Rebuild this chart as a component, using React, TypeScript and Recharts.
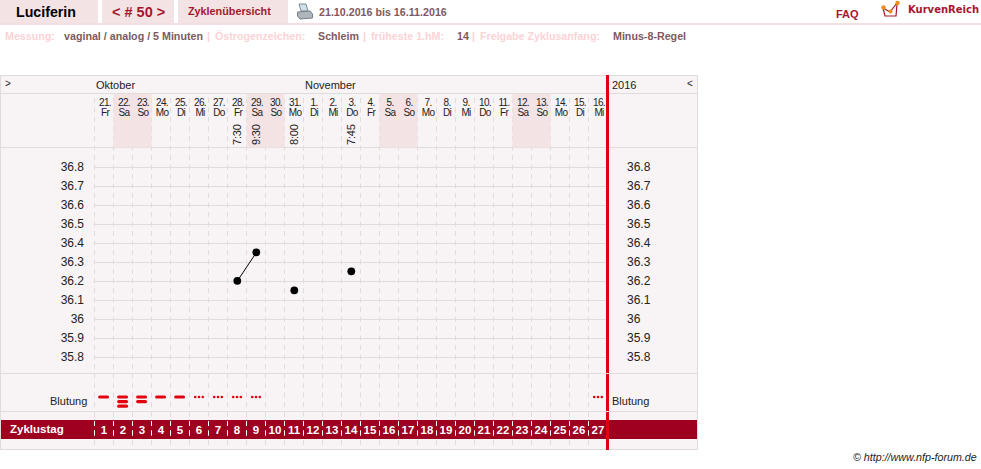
import { CSSProperties } from "react";
import {
  CartesianGrid,
  ComposedChart,
  Line,
  ReferenceArea,
  XAxis,
  YAxis,
} from "recharts";

const dates = ["21.", "22.", "23.", "24.", "25.", "26.", "27.", "28.", "29.", "30.", "31.", "1.", "2.", "3.", "4.", "5.", "6.", "7.", "8.", "9.", "10.", "11.", "12.", "13.", "14.", "15.", "16."];
const weekdays = ["Fr", "Sa", "So", "Mo", "Di", "Mi", "Do", "Fr", "Sa", "So", "Mo", "Di", "Mi", "Do", "Fr", "Sa", "So", "Mo", "Di", "Mi", "Do", "Fr", "Sa", "So", "Mo", "Di", "Mi"];
const cycleDays = [1, 2, 3, 4, 5, 6, 7, 8, 9, 10, 11, 12, 13, 14, 15, 16, 17, 18, 19, 20, 21, 22, 23, 24, 25, 26, 27];
const times = [null, null, null, null, null, null, null, "7:30", "9:30", null, "8:00", null, null, "7:45", null, null, null, null, null, null, null, null, null, null, null, null, null];
const temps = [null, null, null, null, null, null, null, 36.2, 36.35, null, 36.15, null, null, 36.25, null, null, null, null, null, null, null, null, null, null, null, null, null];
// 1 = dots, 2 = one dash, 3 = two dashes, 4 = three dashes
const bleeding = [2, 4, 3, 2, 2, 1, 1, 1, 1, null, null, null, null, null, null, null, null, null, null, null, null, null, null, null, null, null, 1];
const tempTicks = [36.8, 36.7, 36.6, 36.5, 36.4, 36.3, 36.2, 36.1, 36, 35.9, 35.8];
const weekendPairs = [["22.", "23."], ["29.", "30."], ["5.", "6."], ["12.", "13."]];

const data = dates.map((date, i) => ({
  date,
  weekday: weekdays[i],
  cycle: cycleDays[i],
  time: times[i],
  temp: temps[i],
  bleed: bleeding[i],
  bleedRow: bleeding[i] == null ? null : 1,
}));

const FONT = '"Liberation Sans", Arial, sans-serif';
const GRID = "#e0dcdc";
const RED = "#e2000f";
const PINK = "#f3e3e5";
const WINE = "#9e001f";
const MUTED = "#7d5a60";
const FAINT = "#fbd3d6";

// plot runs from y=93 to y=449, 19px per 0.1 degree, 36.8 sits on y=167.5
const TEMP_MAX = 36.8 + (167.5 - 93) / 190;
const TEMP_MIN = 35.8 - (449 - 357.5) / 190;
const HEADER_BOTTOM = 36.8 + (167.5 - 147.5) / 190;

function DayTick({ x, index, payload }: any) {
  const row = data[payload?.index ?? index];
  if (!row) return null;
  return (
    <g fontFamily={FONT} fontSize={10} fill="#222" textAnchor="middle" letterSpacing={-0.7}>
      <text x={x + 1} y={106}>{row.date}</text>
      <text x={x + 1} y={116}>{row.weekday}</text>
      {row.time && (
        <text
          x={x + 3.5}
          y={145}
          textAnchor="start"
          fontSize={11}
          letterSpacing={-0.2}
          transform={`rotate(-90 ${x + 3.5} 145)`}
        >
          {row.time}
        </text>
      )}
    </g>
  );
}

function CycleTick({ x, payload }: any) {
  return (
    <g>
      <line x1={x - 9.5} x2={x - 9.5} y1={421} y2={439} stroke="#fff" strokeDasharray="5 4.5" />
      <text x={x} y={434} textAnchor="middle" fontFamily={FONT} fontSize={11.5} fontWeight="bold" fill="#fff">
        {payload.value}
      </text>
    </g>
  );
}

function TempTick({ y, payload, labelX, anchor }: any) {
  return (
    <text x={labelX} y={y + 3} textAnchor={anchor} fontFamily={FONT} fontSize={12} fill="#222">
      {String(payload.value)}
    </text>
  );
}

function TempDot({ cx, cy }: any) {
  if (cy == null) return null;
  return <circle cx={cx + 0.3} cy={cy - 0.7} r={3.9} fill="#000" />;
}

function BleedMark({ cx, cy, payload }: any) {
  if (!payload.bleed) return null;
  if (payload.bleed === 1) {
    return (
      <g fill={RED}>
        {[-1, 0, 1].map((k) => (
          <circle key={k} cx={cx + k * 3.8} cy={cy} r={1.3} />
        ))}
      </g>
    );
  }
  return (
    <g fill={RED}>
      {Array.from({ length: payload.bleed - 1 }).map((_, k) => (
        <rect key={k} x={cx - 5.9} y={cy - 1.6 + k * 4.6} width={11} height={3.2} rx={1.6} />
      ))}
    </g>
  );
}

function Label({ x, y, children, style }: { x: number; y: number; children: any; style?: CSSProperties }) {
  return (
    <div style={{ position: "absolute", left: x, top: y, whiteSpace: "nowrap", fontFamily: FONT, lineHeight: 1, ...style }}>
      {children}
    </div>
  );
}

function Box({ x, y, w, h, color }: { x: number; y: number; w: number; h: number; color: string }) {
  return <div style={{ position: "absolute", left: x, top: y, width: w, height: h, background: color }} />;
}

const meta: CSSProperties = { fontSize: 10.7, fontWeight: "bold", color: FAINT };
const metaValue: CSSProperties = { fontSize: 10.7, fontWeight: "bold", color: MUTED };

export default function App() {
  return (
    <div style={{ position: "absolute", left: 0, top: 0, width: 981, height: 469, background: "#fff", overflow: "hidden" }}>
      {/* top navigation */}
      <Box x={0} y={0} w={98} h={23} color={PINK} />
      <Box x={102} y={0} w={72} h={23} color={PINK} />
      <Box x={178} y={0} w={110} h={23} color={PINK} />
      <Box x={0} y={23} w={981} h={2} color="#f3dfe1" />
      <Label x={16} y={5} style={{ fontSize: 14.2, fontWeight: "bold", color: "#000" }}>Luciferin</Label>
      <Label x={112} y={5} style={{ fontSize: 14.5, fontWeight: "bold", color: "#a5172f" }}>{"< # 50 >"}</Label>
      <Label x={188} y={6} style={{ fontSize: 10.8, fontWeight: "bold", color: "#a5172f" }}>Zyklenübersicht</Label>
      <svg style={{ position: "absolute", left: 297, top: 3 }} width={16} height={17}>
        <path d="M2 1 L9 1 L11 8 L4 8 Z" fill="#cfe0ea" stroke="#7f8c96" />
        <path d="M0.5 9 L13 8 L15.5 11 L15.5 15 L3 16 L0.5 13 Z" fill="#aeb6bb" stroke="#777f85" />
      </svg>
      <Label x={319} y={7} style={{ ...metaValue }}>21.10.2016 bis 16.11.2016</Label>
      <Label x={836} y={9} style={{ fontSize: 11, fontWeight: "bold", color: "#a5172f" }}>FAQ</Label>
      <svg style={{ position: "absolute", left: 880, top: 0 }} width={22} height={19}>
        <path d="M3 8 L5 16 L16 16 L17 4" fill="none" stroke="#a5172f" strokeWidth={1.2} />
        <path d="M3 8 L10 12 L17 3" fill="none" stroke="#a5172f" strokeWidth={1.2} />
        <circle cx={3.5} cy={7.5} r={2.2} fill="#f08c1a" />
        <circle cx={10.5} cy={11.5} r={2} fill="#f08c1a" />
        <circle cx={17.5} cy={3} r={2.2} fill="#f08c1a" />
      </svg>
      <Label x={908} y={5} style={{ fontFamily: '"DejaVu Sans"', fontSize: 10, fontWeight: "bold", color: "#a5172f" }}>KurvenReich</Label>

      <Label x={5} y={31} style={meta}>Messung:</Label>
      <Label x={64} y={31} style={metaValue}>vaginal / analog / 5 Minuten</Label>
      <Label x={207} y={31} style={meta}>|</Label>
      <Label x={215} y={31} style={meta}>Östrogenzeichen:</Label>
      <Label x={318} y={31} style={metaValue}>Schleim</Label>
      <Label x={363} y={31} style={meta}>|</Label>
      <Label x={371} y={31} style={meta}>früheste 1.hM:</Label>
      <Label x={457} y={31} style={metaValue}>14</Label>
      <Label x={472} y={31} style={meta}>|</Label>
      <Label x={480} y={31} style={meta}>Freigabe Zyklusanfang:</Label>
      <Label x={613} y={31} style={metaValue}>Minus-8-Regel</Label>

      {/* panel behind the chart */}
      <Box x={0} y={75} w={698} h={375} color={GRID} />
      <Box x={1} y={76} w={696} h={373} color="#f8f3f4" />
      <Box x={1} y={93} w={696} h={1} color={GRID} />
      <Box x={1} y={147} w={696} h={1} color={GRID} />
      <Box x={1} y={373} w={696} h={1} color={GRID} />
      <Box x={1} y={411} w={696} h={1} color={GRID} />
      <Box x={1} y={420} w={696} h={19} color={WINE} />

      <div style={{ position: "absolute", left: 0, top: 0 }}>
        {/* axes need 1px of room or recharts skips their ticks, the margins give it back */}
        <ComposedChart
          width={981}
          height={469}
          data={data}
          margin={{ top: 92, right: 372.5, bottom: 19, left: 93.5 }}
        >
          <XAxis dataKey="date" scale="band" orientation="top" height={1} interval={0} axisLine={false} tickLine={false} tick={<DayTick />} />
          <XAxis xAxisId="cycle" dataKey="cycle" scale="band" orientation="bottom" height={1} interval={0} axisLine={false} tickLine={false} tick={<CycleTick />} />
          <YAxis
            yAxisId="temp"
            type="number"
            domain={[TEMP_MIN, TEMP_MAX]}
            ticks={tempTicks}
            interval={0}
            width={1}
            axisLine={false}
            tickLine={false}
            tick={<TempTick labelX={84} anchor="end" />}
          />
          <YAxis
            yAxisId="tempRight"
            orientation="right"
            type="number"
            domain={[TEMP_MIN, TEMP_MAX]}
            ticks={tempTicks}
            interval={0}
            width={1}
            axisLine={false}
            tickLine={false}
            tick={<TempTick labelX={627} anchor="start" />}
          />
          <YAxis yAxisId="row" hide type="number" domain={[0, 356 / 52]} />
          {weekendPairs.map(([from, to]) => (
            <ReferenceArea
              key={from}
              yAxisId="temp"
              x1={from}
              x2={to}
              y1={HEADER_BOTTOM}
              y2={TEMP_MAX - 1 / 190}
              fill={PINK}
              fillOpacity={1}
              stroke="none"
              ifOverflow="extendDomain"
            />
          ))}
          <CartesianGrid
            yAxisId="temp"
            stroke={GRID}
            strokeDasharray="5 4.5"
            strokeDashoffset={4.5}
            horizontal={false}
            verticalCoordinatesGenerator={({ offset }: any) =>
              cycleDays.map((_, i) => offset.left + (i * offset.width) / cycleDays.length)
            }
          />
          <CartesianGrid
            yAxisId="temp"
            stroke={GRID}
            vertical={false}
            horizontalValues={tempTicks}
          />
          <Line
            yAxisId="temp"
            dataKey="temp"
            stroke="#000"
            strokeWidth={1}
            dot={<TempDot />}
            activeDot={false}
            connectNulls={false}
            isAnimationActive={false}
          />
          <Line
            yAxisId="tempRight"
            dataKey="temp"
            stroke="none"
            dot={false}
            activeDot={false}
            legendType="none"
            isAnimationActive={false}
          />
          <Line
            yAxisId="row"
            dataKey="bleedRow"
            stroke="none"
            dot={<BleedMark />}
            activeDot={false}
            isAnimationActive={false}
          />
        </ComposedChart>
      </div>

      {/* labels and the red marker over the chart */}
      <Box x={606} y={75} w={3} h={375} color={RED} />
      <Box x={606} y={373} w={3} h={1} color={GRID} />
      <Box x={606} y={411} w={3} h={1} color={GRID} />
      <Label x={5} y={79} style={{ fontSize: 10, color: "#222" }}>{">"}</Label>
      <Label x={96} y={80} style={{ fontSize: 11, color: "#222" }}>Oktober</Label>
      <Label x={305} y={80} style={{ fontSize: 11, color: "#222" }}>November</Label>
      <Label x={612} y={80} style={{ fontSize: 11, color: "#222" }}>2016</Label>
      <Label x={687} y={79} style={{ fontSize: 10, color: "#222" }}>{"<"}</Label>
      <Label x={50} y={396} style={{ fontSize: 11, color: "#222" }}>Blutung</Label>
      <Label x={612} y={396} style={{ fontSize: 11, color: "#222" }}>Blutung</Label>
      <Label x={10} y={424} style={{ fontSize: 11.5, fontWeight: "bold", color: "#fff" }}>Zyklustag</Label>
      <Label x={853} y={452} style={{ fontSize: 10.7, fontStyle: "italic", color: "#222" }}>© http://www.nfp-forum.de</Label>
    </div>
  );
}
